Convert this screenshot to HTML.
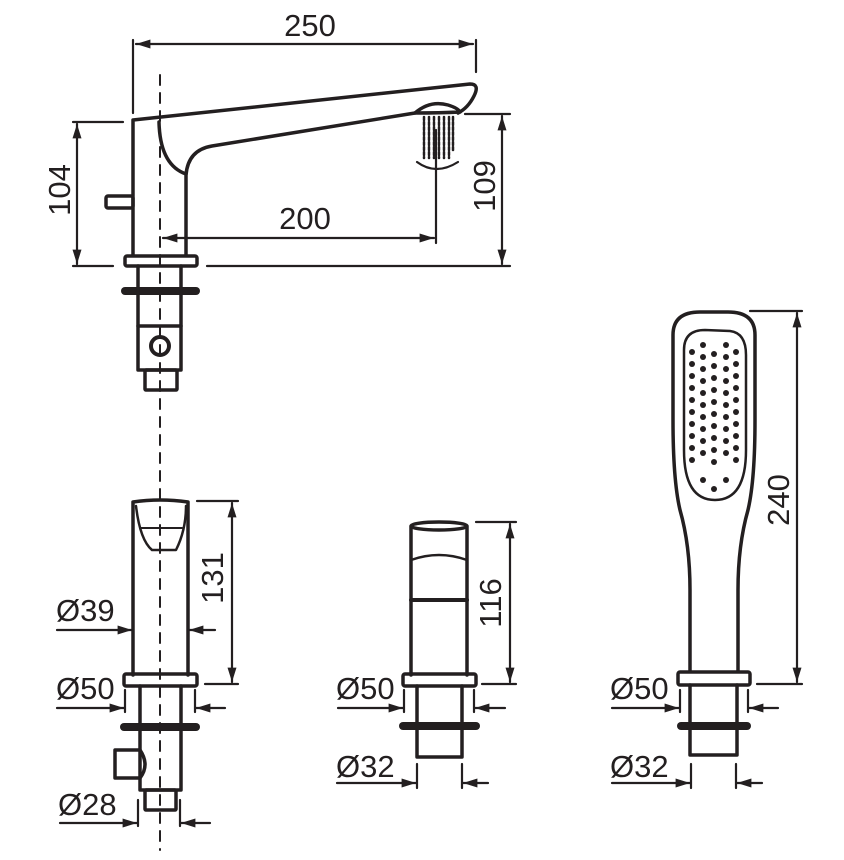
<!DOCTYPE html>
<html><head><meta charset="utf-8"><style>html,body{margin:0;padding:0;background:#fff}svg{display:block}</style></head>
<body>
<svg width="844" height="860" viewBox="0 0 844 860" xmlns="http://www.w3.org/2000/svg" font-family="Liberation Sans, sans-serif">
<defs>
<marker id="b" viewBox="0 0 16 10" refX="16" refY="5" markerWidth="16" markerHeight="9" orient="auto-start-reverse" markerUnits="userSpaceOnUse"><path d="M0,0 L16,5 L0,10 z" fill="#231f20"/></marker>
</defs>
<g stroke="#231f20" fill="none" stroke-width="3.5" stroke-linejoin="round" stroke-linecap="round">
<line x1="160" y1="75" x2="160" y2="850" stroke-width="2" stroke-dasharray="10,8"/>

<!-- TOP SPOUT -->
<line x1="133" y1="40" x2="133" y2="113" stroke-width="2.2"/>
<line x1="476" y1="40" x2="476" y2="72" stroke-width="2.2"/>
<line x1="136" y1="44" x2="473" y2="44" stroke-width="2.2" marker-start="url(#b)" marker-end="url(#b)"/>
<path d="M133,255 L133,120 L470,84 Q480,84 474,96 Q468,108 458,113"/>
<path d="M159,122 Q160,165 186,174"/>
<path d="M186,255 L186,175 Q188,150 212,146 L415,113"/>
<path d="M415,113 Q430,100 448,105 Q458,108 460,112 Q440,113 415,113"/>
<rect x="106" y="196" width="27" height="12" rx="2"/>
<rect x="125" y="256" width="72" height="10" rx="2"/>
<line x1="125" y1="291" x2="196" y2="291" stroke-width="8"/>
<path d="M138,266 L138,370 L181,370 L181,266"/>
<line x1="138" y1="326" x2="181" y2="326"/>
<circle cx="160" cy="346" r="9" stroke-width="4"/>
<rect x="145" y="370" width="32" height="20" rx="1"/>
<g stroke-width="2.5" stroke-dasharray="3,2">
<line x1="424" y1="117" x2="424" y2="158"/><line x1="429" y1="117" x2="429" y2="158"/><line x1="434" y1="117" x2="434" y2="158"/><line x1="439" y1="117" x2="439" y2="158"/><line x1="444" y1="117" x2="444" y2="158"/><line x1="449" y1="117" x2="449" y2="158"/><line x1="453" y1="117" x2="453" y2="152"/>
</g>
<path d="M417,162 Q436,176 458,162" stroke-width="2.2"/>
<line x1="73" y1="122" x2="123" y2="122" stroke-width="2.2"/>
<line x1="73" y1="266" x2="113" y2="266" stroke-width="2.2"/>
<line x1="77" y1="124" x2="77" y2="264" stroke-width="2.2" marker-start="url(#b)" marker-end="url(#b)"/>
<line x1="465" y1="114" x2="510" y2="114" stroke-width="2.2"/>
<line x1="207" y1="266" x2="510" y2="266" stroke-width="2.2"/>
<line x1="502" y1="116" x2="502" y2="264" stroke-width="2.2" marker-start="url(#b)" marker-end="url(#b)"/>
<line x1="436" y1="130" x2="436" y2="243" stroke-width="2.2"/>
<line x1="163" y1="238" x2="434" y2="238" stroke-width="2.2" marker-start="url(#b)" marker-end="url(#b)"/>

<!-- BOTTOM LEFT -->
<path d="M133,675 L133,502 Q160,498 188,502 L188,675"/>
<path d="M136,506 Q140,540 152,550 L176,550 Q186,530 186,506" stroke-width="2.5"/>
<path d="M140,528 L182,528" stroke-width="2"/>
<rect x="124" y="674" width="73" height="12" rx="2"/>
<path d="M140,686 L140,790 L181,790 L181,686"/>
<line x1="124" y1="727" x2="196" y2="727" stroke-width="8"/>
<path d="M140,750 L115,750 L115,778 L140,778 Q150,765 140,750"/>
<rect x="145" y="790" width="31" height="20" rx="1"/>
<line x1="197" y1="501" x2="238" y2="501" stroke-width="2.2"/>
<line x1="205" y1="684" x2="238" y2="684" stroke-width="2.2"/>
<line x1="232" y1="503" x2="232" y2="682" stroke-width="2.2" marker-start="url(#b)" marker-end="url(#b)"/>
<line x1="57" y1="630" x2="132" y2="630" stroke-width="2.2" marker-end="url(#b)"/>
<line x1="215" y1="630" x2="189" y2="630" stroke-width="2.2" marker-end="url(#b)"/>
<line x1="125" y1="690" x2="125" y2="712" stroke-width="2.2"/>
<line x1="195" y1="690" x2="195" y2="712" stroke-width="2.2"/>
<line x1="57" y1="708" x2="124" y2="708" stroke-width="2.2" marker-end="url(#b)"/>
<line x1="225" y1="708" x2="196" y2="708" stroke-width="2.2" marker-end="url(#b)"/>
<line x1="138" y1="800" x2="138" y2="826" stroke-width="2.2"/>
<line x1="180" y1="800" x2="180" y2="826" stroke-width="2.2"/>
<line x1="60" y1="823" x2="137" y2="823" stroke-width="2.2" marker-end="url(#b)"/>
<line x1="210" y1="823" x2="181" y2="823" stroke-width="2.2" marker-end="url(#b)"/>

<!-- MIDDLE -->
<path d="M411,675 L411,527 M467,527 L467,675"/>
<ellipse cx="439" cy="526" rx="28" ry="4"/>
<path d="M411,560 Q439,550 467,560" stroke-width="2.5"/>
<line x1="411" y1="600" x2="467" y2="600" stroke-width="4"/>
<rect x="403" y="674" width="73" height="12" rx="2"/>
<path d="M417,686 L417,757 L462,757 L462,686"/>
<line x1="403" y1="726" x2="476" y2="726" stroke-width="8"/>
<line x1="476" y1="522" x2="516" y2="522" stroke-width="2.2"/>
<line x1="482" y1="684" x2="516" y2="684" stroke-width="2.2"/>
<line x1="510" y1="524" x2="510" y2="682" stroke-width="2.2" marker-start="url(#b)" marker-end="url(#b)"/>
<line x1="404" y1="690" x2="404" y2="712" stroke-width="2.2"/>
<line x1="474" y1="690" x2="474" y2="712" stroke-width="2.2"/>
<line x1="338" y1="708" x2="403" y2="708" stroke-width="2.2" marker-end="url(#b)"/>
<line x1="505" y1="708" x2="475" y2="708" stroke-width="2.2" marker-end="url(#b)"/>
<line x1="417" y1="764" x2="417" y2="788" stroke-width="2.2"/>
<line x1="462" y1="764" x2="462" y2="788" stroke-width="2.2"/>
<line x1="337" y1="783" x2="416" y2="783" stroke-width="2.2" marker-end="url(#b)"/>
<line x1="488" y1="783" x2="463" y2="783" stroke-width="2.2" marker-end="url(#b)"/>

<!-- HAND SHOWER -->
<path d="M690,671 L690,590 Q690,545 680,510 Q673,480 673,420 L673,335 Q673,312 700,312 L728,312 Q755,312 755,335 L755,420 Q755,480 748,510 Q738,545 738,590 L738,671"/>
<path d="M684,350 Q684,330 705,330 L730,331 Q746,333 746,355 L746,450 Q746,500 715,500 Q684,500 684,450 Z" stroke-width="2.5"/>
<rect x="678" y="672" width="72" height="13" rx="2"/>
<path d="M690,685 L690,755 L737,755 L737,685"/>
<line x1="681" y1="726" x2="747" y2="726" stroke-width="8"/>
<line x1="750" y1="311" x2="802" y2="311" stroke-width="2.2"/>
<line x1="757" y1="684" x2="802" y2="684" stroke-width="2.2"/>
<line x1="797" y1="313" x2="797" y2="682" stroke-width="2.2" marker-start="url(#b)" marker-end="url(#b)"/>
<line x1="680" y1="690" x2="680" y2="712" stroke-width="2.2"/>
<line x1="748" y1="690" x2="748" y2="712" stroke-width="2.2"/>
<line x1="612" y1="708" x2="679" y2="708" stroke-width="2.2" marker-end="url(#b)"/>
<line x1="778" y1="708" x2="749" y2="708" stroke-width="2.2" marker-end="url(#b)"/>
<line x1="691" y1="764" x2="691" y2="788" stroke-width="2.2"/>
<line x1="736" y1="764" x2="736" y2="788" stroke-width="2.2"/>
<line x1="612" y1="783" x2="690" y2="783" stroke-width="2.2" marker-end="url(#b)"/>
<line x1="762" y1="783" x2="737" y2="783" stroke-width="2.2" marker-end="url(#b)"/>
</g>
<g fill="#231f20">
<g id="c1"><circle cx="703" cy="345" r="3"/><circle cx="726" cy="345" r="3"/><circle cx="692" cy="352" r="3"/><circle cx="714" cy="354" r="3"/><circle cx="736" cy="352" r="3"/></g>
<use href="#c1" y="12"/><use href="#c1" y="24"/><use href="#c1" y="36"/><use href="#c1" y="48"/><use href="#c1" y="60"/><use href="#c1" y="72"/><use href="#c1" y="84"/><use href="#c1" y="96"/><use href="#c1" y="108"/>
<circle cx="703" cy="480" r="3"/><circle cx="726" cy="480" r="3"/><circle cx="714" cy="489" r="3"/>
</g>
<g fill="#231f20" font-size="31">
<text x="310" y="36" text-anchor="middle">250</text>
<text x="305" y="229" text-anchor="middle">200</text>
<text transform="translate(70,190) rotate(-90)" text-anchor="middle">104</text>
<text transform="translate(495,186) rotate(-90)" text-anchor="middle">109</text>
<text transform="translate(223,578) rotate(-90)" text-anchor="middle">131</text>
<text transform="translate(501,603) rotate(-90)" text-anchor="middle">116</text>
<text transform="translate(789,500) rotate(-90)" text-anchor="middle">240</text>
<text x="56" y="621">Ø39</text>
<text x="56" y="699">Ø50</text>
<text x="58" y="815">Ø28</text>
<text x="336" y="699">Ø50</text>
<text x="336" y="777">Ø32</text>
<text x="610" y="699">Ø50</text>
<text x="610" y="777">Ø32</text>
</g>
</svg>
</body></html>
